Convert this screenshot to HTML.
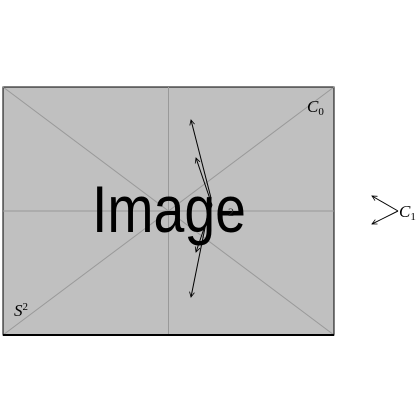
<!DOCTYPE html>
<html><head><meta charset="utf-8"><style>
body{margin:0;background:#fff;}
svg{display:block;}
text{font-family:"Liberation Serif",serif;}
</style></head><body>
<svg width="420" height="420" viewBox="0 0 420 420">
<defs><marker id="ah" markerWidth="6" markerHeight="6" refX="5" refY="3" orient="auto"><path d="M0,0.5 L5,3 L0,5.5" fill="none" stroke="#000" stroke-width="0.8"/></marker></defs>
<g>
<rect x="3" y="87" width="331" height="248" fill="#c0c0c0" stroke="#000" stroke-width="1"/>
<line x1="3" y1="87" x2="334" y2="335" stroke="#999" stroke-width="1"/>
<line x1="3" y1="335" x2="334" y2="87" stroke="#999" stroke-width="1"/>
<line x1="168.5" y1="87" x2="168.5" y2="335" stroke="#999" stroke-width="1"/>
<line x1="3" y1="211" x2="334" y2="211" stroke="#999" stroke-width="1"/>
<line x1="3" y1="335" x2="334" y2="335" stroke="#000" stroke-width="2"/>
<text x="92" y="232" font-size="66" textLength="154" lengthAdjust="spacingAndGlyphs" style="font-family:'Liberation Sans',sans-serif">Image</text>
</g>
<text x="307" y="112" font-size="17" font-style="italic">C<tspan font-size="11" font-style="normal" dy="3">0</tspan></text>
<text x="14" y="316" font-size="17" font-style="italic">S<tspan font-size="11" font-style="normal" dy="-6">2</tspan></text>
<text x="228" y="216" font-size="12" fill="#333">2</text>
<g stroke="#000" stroke-width="1" fill="none">
<line x1="211" y1="198" x2="191" y2="120" marker-end="url(#ah)"/>
<line x1="211" y1="198" x2="191" y2="297" marker-end="url(#ah)"/>
<line x1="212" y1="205" x2="196" y2="158" marker-end="url(#ah)"/>
<line x1="212" y1="205" x2="196" y2="252" marker-end="url(#ah)"/>
</g>
<g stroke="#000" stroke-width="1" fill="none">
<line x1="398" y1="211" x2="372" y2="196" marker-end="url(#ah)"/>
<line x1="398" y1="211" x2="372" y2="224" marker-end="url(#ah)"/>
</g>
<text x="399" y="217" font-size="17" font-style="italic">C<tspan font-size="11" font-style="normal" dy="3">1</tspan></text>
</svg>
</body></html>
